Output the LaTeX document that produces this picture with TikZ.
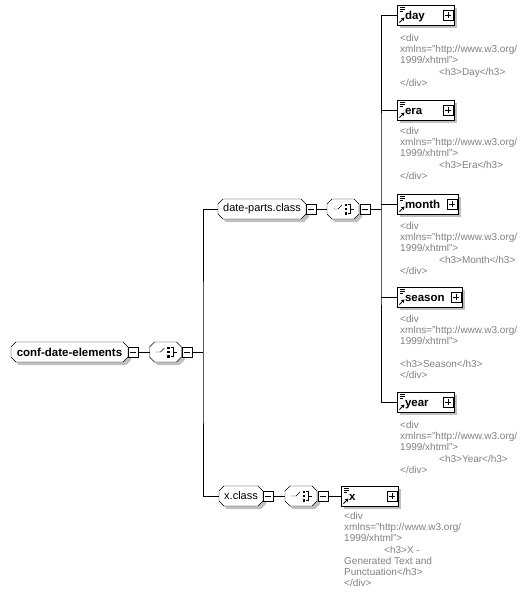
\documentclass[tikz,border=0pt]{standalone}
\usepackage{fontspec}
\setmainfont{Liberation Sans}
\usetikzlibrary{calc,arrows.meta,backgrounds}
\definecolor{anngray}{RGB}{128,128,128}
\definecolor{shadowgray}{RGB}{192,192,192}

\newcommand\octshape[4]{%
  \path[#4] ([shift={(5+#2,#3)}]#1.north west) -- ([shift={(-5+#2,#3)}]#1.north east)
   -- ([shift={(#2,5+#3)}]#1.north east) -- ([shift={(#2,-5+#3)}]#1.south east)
   -- ([shift={(-5+#2,#3)}]#1.south east) -- ([shift={(5+#2,#3)}]#1.south west)
   -- ([shift={(#2,-5+#3)}]#1.south west) -- ([shift={(#2,5+#3)}]#1.north west) -- cycle;}

\newcommand\octnode[5]{%
  \node[octn, minimum width=#4] (#1) at (#2,#3) {#5};
  \begin{pgfonlayer}{background}
    \octshape{#1}{3}{3}{fill=shadowgray}
    \octshape{#1}{0}{0}{draw, fill=white}
  \end{pgfonlayer}}

\newcommand\seqicon[1]{%
  \draw ([xshift=-10]#1.center) -- ([xshift=-5]#1.center) -- ([shift={(-1,-4)}]#1.center);
  \fill ([shift={(1.5,-5.5)}]#1.center) rectangle ([shift={(4,-3)}]#1.center);
  \fill ([shift={(1.5,-1.25)}]#1.center) rectangle ([shift={(4,1.25)}]#1.center);
  \fill ([shift={(1.5,3)}]#1.center) rectangle ([shift={(4,5.5)}]#1.center);
  \draw ([shift={(5,-4.5)}]#1.center) -- ([shift={(7.5,-4.5)}]#1.center) -- ([shift={(7.5,4.5)}]#1.center) -- ([shift={(5,4.5)}]#1.center);
  \draw ([shift={(7.5,0)}]#1.center) -- ([shift={(11,0)}]#1.center);}

\newcommand\elem[6]{%
  \node[elemn, minimum width=#4, text width=#5, anchor=west] (#1) at (#2,#3) {\hspace*{6pt}#6};
  \node[plusn] (#1p) at ([xshift=-6]#1.east) {};
  \begin{pgfonlayer}{background}
    \fill[shadowgray] ([shift={(3,3)}]#1.north west) rectangle ([shift={(3,3)}]#1.south east);
  \end{pgfonlayer}
  \draw[line width=0.9] ([shift={(2.5,2.5)}]#1.north west) -- ++(5,0);
  \draw[line width=0.9] ([shift={(2.5,4.5)}]#1.north west) -- ++(5,0);
  \draw[line width=0.9] ([shift={(2.5,6.5)}]#1.north west) -- ++(3.5,0);
  \draw[line width=1, -{Stealth[length=3.5pt,width=4pt]}] ([shift={(2.5,17.5)}]#1.north west) -- ++(5,-5);}

\begin{document}
\begin{tikzpicture}[x=1pt, y=-1pt, line width=1pt,
  octn/.style={draw=none, inner sep=0, outer sep=0, minimum height=20},
  elemn/.style={draw, fill=white, minimum height=20, inner xsep=2, inner ysep=0, outer sep=0,
    text height=10, text depth=1,
    align=left, font=\bfseries\fontsize{11.5}{13}\selectfont},
  pmbox/.style={draw, fill=white, minimum size=10, inner sep=0, outer sep=0, line width=1pt},
  minusn/.style={pmbox, path picture={\draw[line width=1pt] ([xshift=2]path picture bounding box.west) -- ([xshift=-2]path picture bounding box.east);}},
  plusn/.style={pmbox, path picture={\draw[line width=1pt] ([xshift=2]path picture bounding box.west) -- ([xshift=-2]path picture bounding box.east);
     \draw[line width=1pt] ([yshift=-2]path picture bounding box.north) -- ([yshift=2]path picture bounding box.south);}},
  ann/.style={anchor=north west, inner sep=0, align=left, text=anngray, font=\fontsize{10}{11.2}\selectfont}]
\useasboundingbox (0,0) rectangle (529,595);

% root
\octnode{conf}{69.5}{352}{117}{\bfseries\fontsize{11.5}{13}\selectfont conf-date-elements}
\node[minusn] (confm) at (133,352) {};
\octnode{seq1}{165.5}{352}{32}{}
\seqicon{seq1}
\node[minusn] (seq1m) at (187,352) {};
\coordinate (v1) at (203,352);

% date-parts.class
\octnode{dp}{262}{209}{88}{\fontsize{11}{13}\selectfont date-parts.class}
\node[minusn] (dpm) at (311,209) {};
\octnode{seq2}{343}{209}{32}{}
\seqicon{seq2}
\node[minusn] (seq2m) at (365,209) {};
\coordinate (v2) at (381,209);

% x.class
\octnode{xcl}{241}{496}{44}{\fontsize{11}{13}\selectfont x.class}
\node[minusn] (xclm) at (268,496) {};
\octnode{seq3}{301}{496}{32}{}
\seqicon{seq3}
\node[minusn] (seq3m) at (323,496) {};

% elements
\elem{day}{397}{15}{57}{53pt}{day}
\elem{era}{397}{110}{57}{53pt}{era}
\elem{month}{397}{204}{61}{57pt}{month}
\elem{season}{397}{297}{65}{61pt}{season}
\elem{year}{397}{402}{57}{53pt}{year}
\elem{xel}{341}{496}{57}{53pt}{x}

% connectors
\draw (confm.east) -- (seq1.west);
\draw (seq1m.east) -- (v1);
\draw (dp.west) -| (v1) |- (xcl.west);
\draw (dpm.east) -- (seq2.west);
\draw (seq2m.east) -- (v2);
\draw (day.west) -| (v2) |- (year.west);
\draw (era.west) -- (era.west -| v2);
\draw (month.west) -- (month.west -| v2);
\draw (season.west) -- (season.west -| v2);
\draw (xclm.east) -- (seq3.west);
\draw (seq3m.east) -- (xel.west);

% annotations
\node[ann] (dayd) at (400,34) {<div\\xmlns="http://www.w3.org/\\1999/xhtml">\\\hspace*{39pt}<h3>Day</h3>\\</div>};
\node[ann] (erad) at (400,127) {<div\\xmlns="http://www.w3.org/\\1999/xhtml">\\\hspace*{39pt}<h3>Era</h3>\\</div>};
\node[ann] (monthd) at (400,222) {<div\\xmlns="http://www.w3.org/\\1999/xhtml">\\\hspace*{39pt}<h3>Month</h3>\\</div>};
\node[ann] (seasond) at (400,315) {<div\\xmlns="http://www.w3.org/\\1999/xhtml">\\\mbox{}\\<h3>Season</h3>\\</div>};
\node[ann] (yeard) at (400,421) {<div\\xmlns="http://www.w3.org/\\1999/xhtml">\\\hspace*{39pt}<h3>Year</h3>\\</div>};
\node[ann] (xeld) at (344,512) {<div\\xmlns="http://www.w3.org/\\1999/xhtml">\\\hspace*{40pt}<h3>X -\\Generated Text and\\Punctuation</h3>\\</div>};
\end{tikzpicture}
\end{document}
